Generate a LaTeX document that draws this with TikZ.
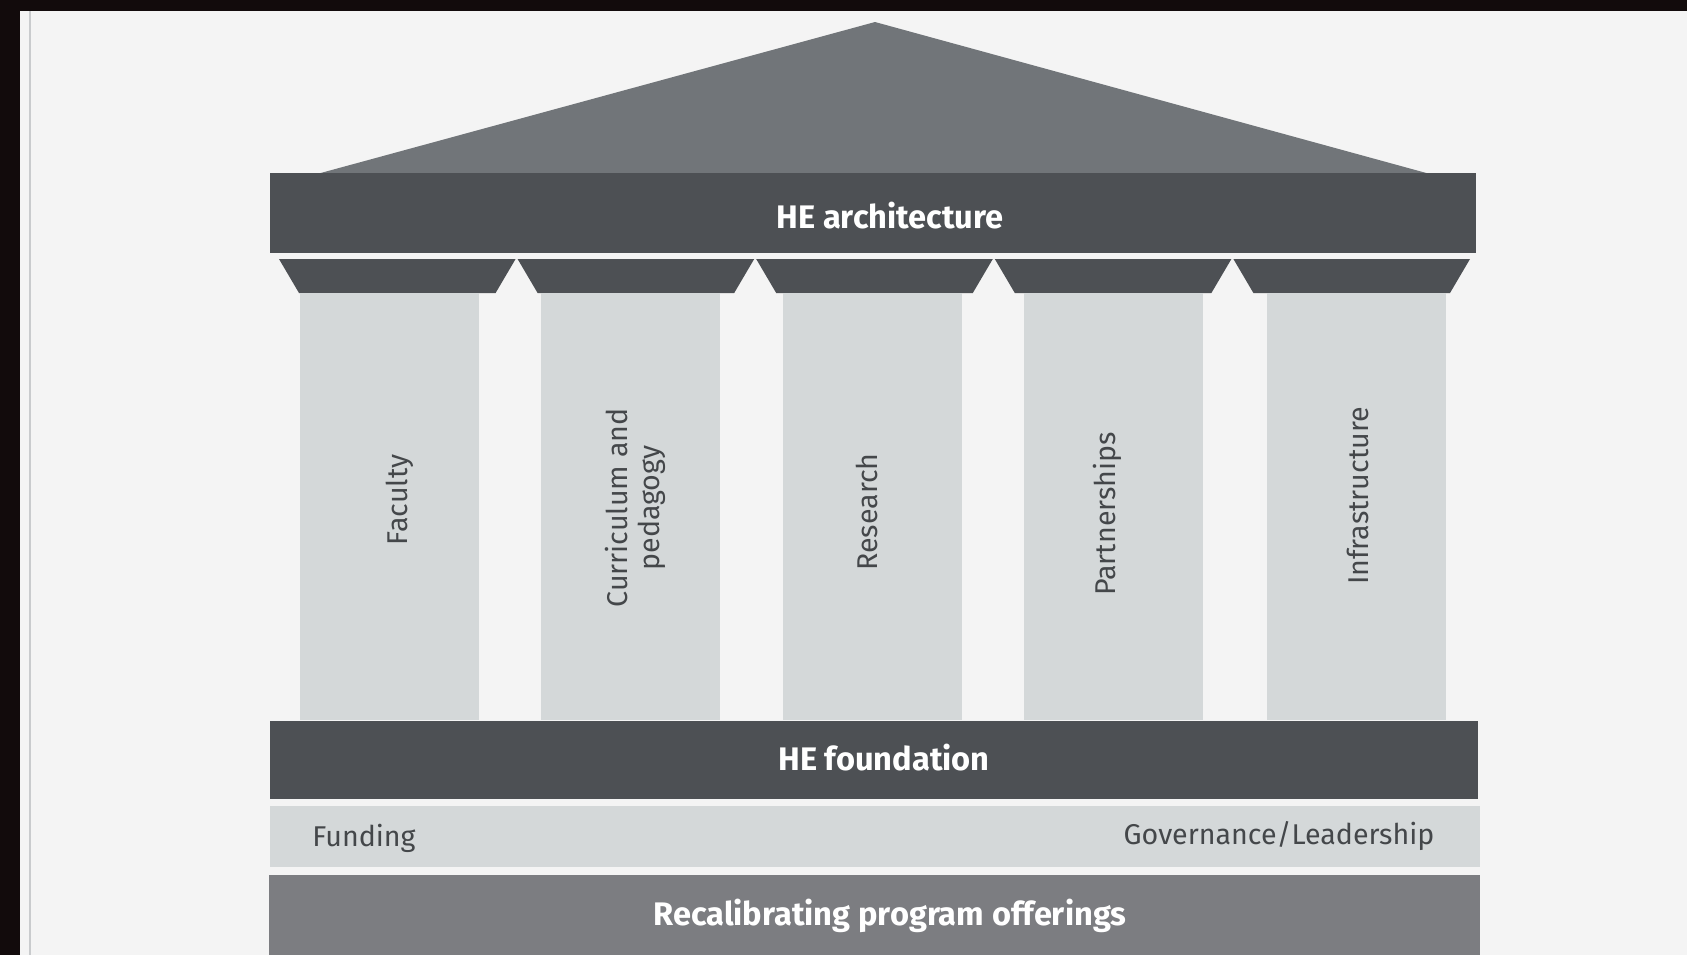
\documentclass[tikz,border=0pt]{standalone}
\usepackage{fontspec}
\setmainfont{Fira Sans}
\definecolor{bg}{HTML}{F4F4F4}
\definecolor{frame}{HTML}{120B0C}
\definecolor{rulegray}{HTML}{C9CBCD}
\definecolor{roof}{HTML}{717579}
\definecolor{heDark}{HTML}{4D5054}
\definecolor{colFill}{HTML}{D4D8D9}
\definecolor{recal}{HTML}{7C7D81}
\definecolor{colTxt}{HTML}{44474A}

\begin{document}
\begin{tikzpicture}[x=0.5pt, y=-0.5pt,
  bar/.style={fill=heDark},
  colbox/.style={fill=colFill},
  headtxt/.style={text=white, font=\fontsize{16.3}{18}\selectfont\bfseries},
  coltxt/.style={text=colTxt, font=\fontsize{14.3}{16}\selectfont, rotate=90, align=center},
  basetxt/.style={text=colTxt, font=\fontsize{14.3}{16}\selectfont}]
\useasboundingbox (0,0) rectangle (1687,955);
\fill[bg] (0,0) rectangle (1687,955);
\fill[frame] (0,0) rectangle (20,955);
\fill[frame] (0,0) rectangle (1687,11);
\fill[rulegray] (29,11) rectangle (31,955);

% roof and architrave
\fill[roof] (317,174) -- (875,22) -- (1430,174) -- cycle;
\fill[bar] (270,173) rectangle (1476,253);
\node[headtxt] (arch) at (890,216) {HE architecture};

\foreach \i in {0,...,4}{
  \pgfmathsetmacro{\xa}{278+238.6*\i}
  \pgfmathsetmacro{\xb}{\xa+238.6}
  \fill[bar] (\xa+1,259) -- (\xb-1,259) -- (\xb-21,293) -- (\xa+21,293) -- cycle;
}

% columns
\foreach \x/\lx/\ly/\t [count=\n] in {300/400/500/Faculty, 541/635/508/{Curriculum and\\pedagogy}, 783/867/512/Research, 1024/1107/514/Partnerships, 1267/1358/496/Infrastructure}{
  \fill[colbox] (\x,293) rectangle (\x+179,720);
  \node[coltxt] (col\n) at (\lx,\ly) {\t};
}

% base
\fill[bar] (270,721) rectangle (1478,799);
\node[headtxt] (found) at (884,758) {HE foundation};
\fill[colbox] (270,806) rectangle (1480,867);
\node[basetxt] (fund) at (364,838) {Funding};
\node[basetxt] (gov) at (1279,836) {Governance/Leadership};
\fill[recal] (269,875) rectangle (1480,955);
\node[headtxt] (recalib) at (890,916) {Recalibrating program offerings};
\end{tikzpicture}
\end{document}
